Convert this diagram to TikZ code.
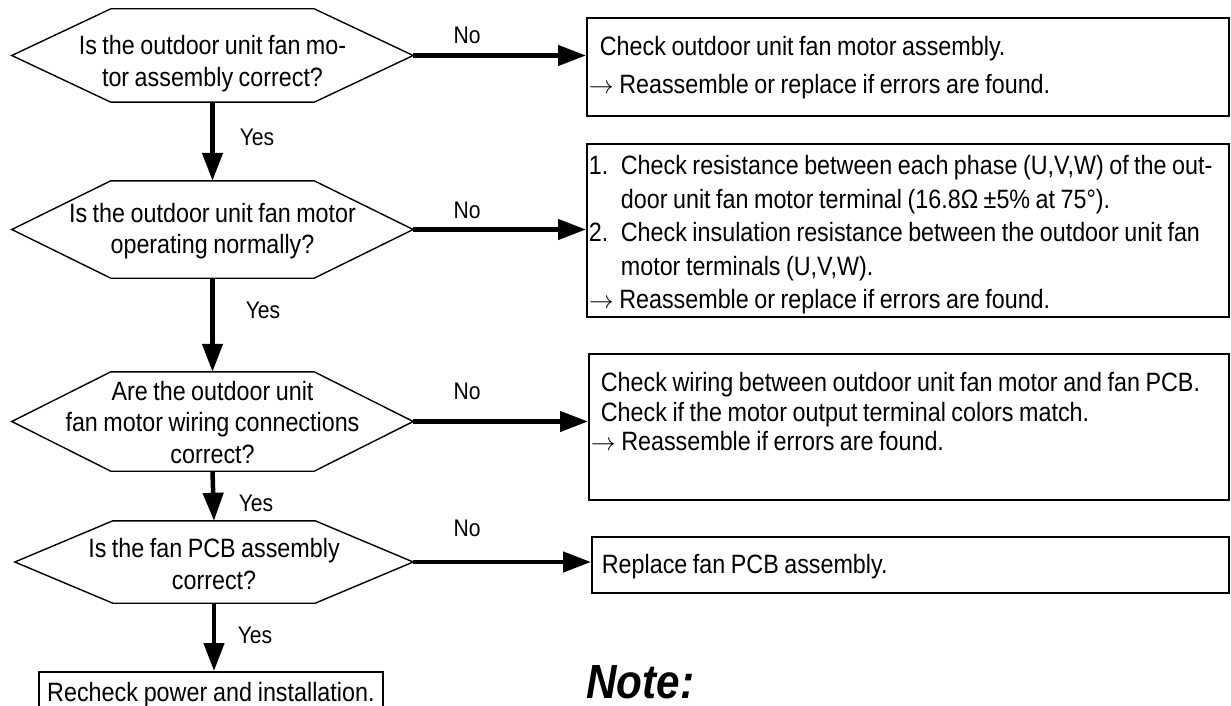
\documentclass[tikz,border=0pt]{standalone}
\usepackage{fontspec}
\setmainfont{Liberation Sans}[FakeStretch=0.88, WordSpace=0.85]
\usetikzlibrary{arrows.meta}
\newcommand\hexdraw[2]{\draw[hexline] (#1.west) -- ([xshift=#2]#1.north west) -- ([xshift=-#2]#1.north east) -- (#1.east) -- ([xshift=-#2]#1.south east) -- ([xshift=#2]#1.south west) -- cycle;}
\newcommand\natsp{\spaceskip=0pt\xspaceskip=0pt\relax}
\begin{document}
\begin{tikzpicture}[x=1pt,y=-1pt,
  hexbox/.style={rectangle, inner sep=0pt, minimum width=401pt},
  hextext/.style={inner sep=0pt, align=center, font=\fontsize{26.5}{31.5}\selectfont},
  hexline/.style={line width=1.4pt, line join=miter},
  flow/.style={line width=4.5pt, -{Triangle[length=28pt,width=20pt]}},
  box/.style={draw, line width=1.8pt, anchor=north west, inner xsep=2pt, inner ysep=0pt, align=left},
  lbl/.style={inner sep=0pt, font=\fontsize{24}{28}\selectfont},
  note/.style={inner sep=0pt, font=\fontsize{48}{54}\selectfont\bfseries\itshape}]
\useasboundingbox (0,0) rectangle (1231,706);
% decision hexagons
\node[hexbox, minimum height=93pt] (h1) at (212.5,55.5) {};
\node[hextext] (t1) at ([yshift=-8pt]h1.center) {Is the outdoor unit fan mo-\\tor assembly correct?};
\hexdraw{h1}{99pt}
\node[hexbox, minimum height=97pt] (h2) at (212.5,229.5) {};
\node[hextext] (t2) at ([yshift=-1.5pt]h2.center) {Is the outdoor unit fan motor\\operating normally?};
\hexdraw{h2}{99pt}
\node[hexbox, minimum height=99pt] (h3) at (212.5,421.5) {};
\node[hextext] (t3) at ([yshift=-1pt]h3.center) {Are the outdoor unit\\fan motor wiring connections\\correct?};
\hexdraw{h3}{99pt}
\node[hexbox, minimum height=82pt, minimum width=398pt] (h4) at (214,562) {};
\node[hextext] (t4) at ([yshift=-2pt]h4.center) {Is the fan PCB assembly\\correct?};
\hexdraw{h4}{98pt}
% final box
\node[box, align=center, text width=340pt, text height=30pt, text depth=20pt, font=\fontsize{26.5}{31.5}\selectfont] (fin) at (38,671) {\natsp Recheck power and installation.};
% right boxes
\node[box, text width=638pt, text height=37.5pt, text depth=60.5pt, font=\fontsize{26.5}{38}\selectfont] (b1) at (586,17) {\natsp\hspace*{11pt}Check outdoor unit fan motor assembly.\\$\rightarrow$ Reassemble or replace if errors are found.};
\node[box, text width=638pt, text height=31pt, text depth=142pt, font=\fontsize{26.5}{33.5}\selectfont] (b2) at (586,143) {\natsp\makebox[32pt][l]{1.}Check resistance between each phase (U,V,W) of the out-\\\hspace*{32pt}door unit fan motor terminal (16.8Ω ±5\% at 75°).\\\makebox[32pt][l]{2.}Check insulation resistance between the outdoor unit fan\\\hspace*{32pt}motor terminals (U,V,W).\\$\rightarrow$ Reassemble or replace if errors are found.};
\node[box, text width=636pt, text height=38pt, text depth=108pt, font=\fontsize{26.5}{29.5}\selectfont] (b3) at (588,353) {\natsp\hspace*{10pt}Check wiring between outdoor unit fan motor and fan PCB.\\\hspace*{10pt}Check if the motor output terminal colors match.\\$\rightarrow$ Reassemble if errors are found.};
\node[box, text width=633pt, text height=37pt, text depth=19pt, font=\fontsize{26.5}{30}\selectfont] (b4) at (591,536) {\natsp\hspace*{8pt}Replace fan PCB assembly.};
% yes arrows
\draw[flow] (h1.south) -- (h2.north);
\draw[flow] (h2.south) -- (h3.north);
\draw[flow] (h3.south) -- (h4.north);
\draw[flow] (h4.south) -- (fin.north -| h4.south);
% no arrows
\draw[flow] (h1.east) -- (h1.east -| b1.west);
\draw[flow] (h2.east) -- (h2.east -| b2.west);
\draw[flow] (h3.east) -- (h3.east -| b3.west);
\draw[flow] (h4.east) -- (h4.east -| b4.west);
% labels
\node[lbl] (y1) at (257,137) {Yes};
\node[lbl] (y2) at (263,310) {Yes};
\node[lbl] (y3) at (256,503) {Yes};
\node[lbl] (y4) at (255,635) {Yes};
\node[lbl] (n1) at (467,35) {No};
\node[lbl] (n2) at (467,210) {No};
\node[lbl] (n3) at (467,391) {No};
\node[lbl] (n4) at (467,528) {No};
\node[note, anchor=west] (nt) at (586,682) {Note:};
\end{tikzpicture}
\end{document}
